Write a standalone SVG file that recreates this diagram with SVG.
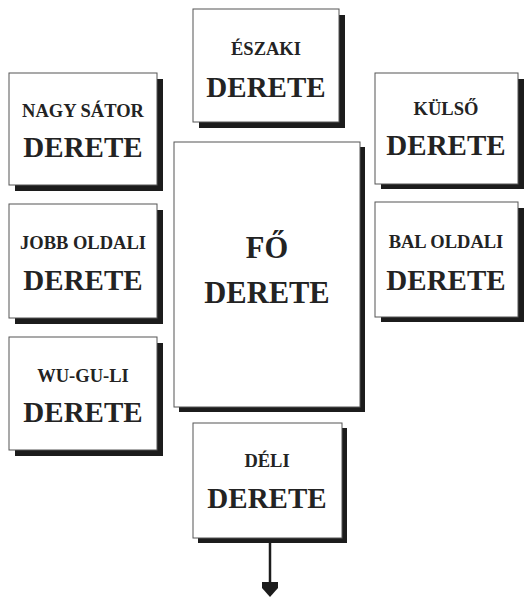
<svg xmlns="http://www.w3.org/2000/svg" width="524" height="600" viewBox="0 0 524 600">
<style>
.sh{fill:#1c1c1c}
.bx{fill:#fff;stroke:#555;stroke-width:1}
.t{font-family:'Liberation Serif','Times New Roman','DejaVu Serif',serif;font-weight:700;fill:#232323;text-anchor:middle}
.s{font-size:18.5px}
.b{font-size:29px}
.f{font-size:30.5px}
</style>
<rect width="524" height="600" fill="#fff"/>
<g id="eszaki">
<rect class="sh" x="199" y="15" width="146" height="113"/>
<rect class="bx" x="193" y="9" width="146" height="113"/>
<text class="t s" x="266" y="55">ÉSZAKI</text>
<text class="t b" x="266" y="97">DERETE</text>
</g>
<g id="nagy-sator">
<rect class="sh" x="15" y="79" width="148" height="112"/>
<rect class="bx" x="9" y="73" width="148" height="112"/>
<text class="t s" x="83" y="117">NAGY SÁTOR</text>
<text class="t b" x="83" y="157">DERETE</text>
</g>
<g id="jobb-oldali">
<rect class="sh" x="15" y="210" width="148" height="114"/>
<rect class="bx" x="9" y="204" width="148" height="114"/>
<text class="t s" x="83" y="249">JOBB OLDALI</text>
<text class="t b" x="83" y="290">DERETE</text>
</g>
<g id="wu-gu-li">
<rect class="sh" x="15" y="343" width="148" height="113"/>
<rect class="bx" x="9" y="337" width="148" height="113"/>
<text class="t s" x="83" y="382">WU-GU-LI</text>
<text class="t b" x="83" y="422">DERETE</text>
</g>
<g id="fo">
<rect class="sh" x="179" y="147" width="186" height="265"/>
<rect class="bx" x="174" y="142" width="186" height="265"/>
<text class="t f" x="267" y="258">FŐ</text>
<text class="t f" x="267" y="303">DERETE</text>
</g>
<g id="kulso">
<rect class="sh" x="381" y="79" width="143" height="110"/>
<rect class="bx" x="375" y="73" width="143" height="111"/>
<text class="t s" x="446" y="115">KÜLSŐ</text>
<text class="t b" x="446" y="155">DERETE</text>
</g>
<g id="bal-oldali">
<rect class="sh" x="381" y="208" width="143" height="114"/>
<rect class="bx" x="375" y="202" width="143" height="115"/>
<text class="t s" x="446" y="248">BAL OLDALI</text>
<text class="t b" x="446" y="290">DERETE</text>
</g>
<g id="deli">
<rect class="sh" x="198" y="428" width="149" height="115"/>
<rect class="bx" x="193" y="423" width="149" height="115"/>
<text class="t s" x="267" y="467">DÉLI</text>
<text class="t b" x="267" y="508">DERETE</text>
</g>
<g id="connectors">
<line x1="270" y1="543" x2="270" y2="583" stroke="#1c1c1c" stroke-width="2.5"/>
<polygon points="262,582 278,582 278,588 270,597 262,588" fill="#1c1c1c"/>
</g>
</svg>
